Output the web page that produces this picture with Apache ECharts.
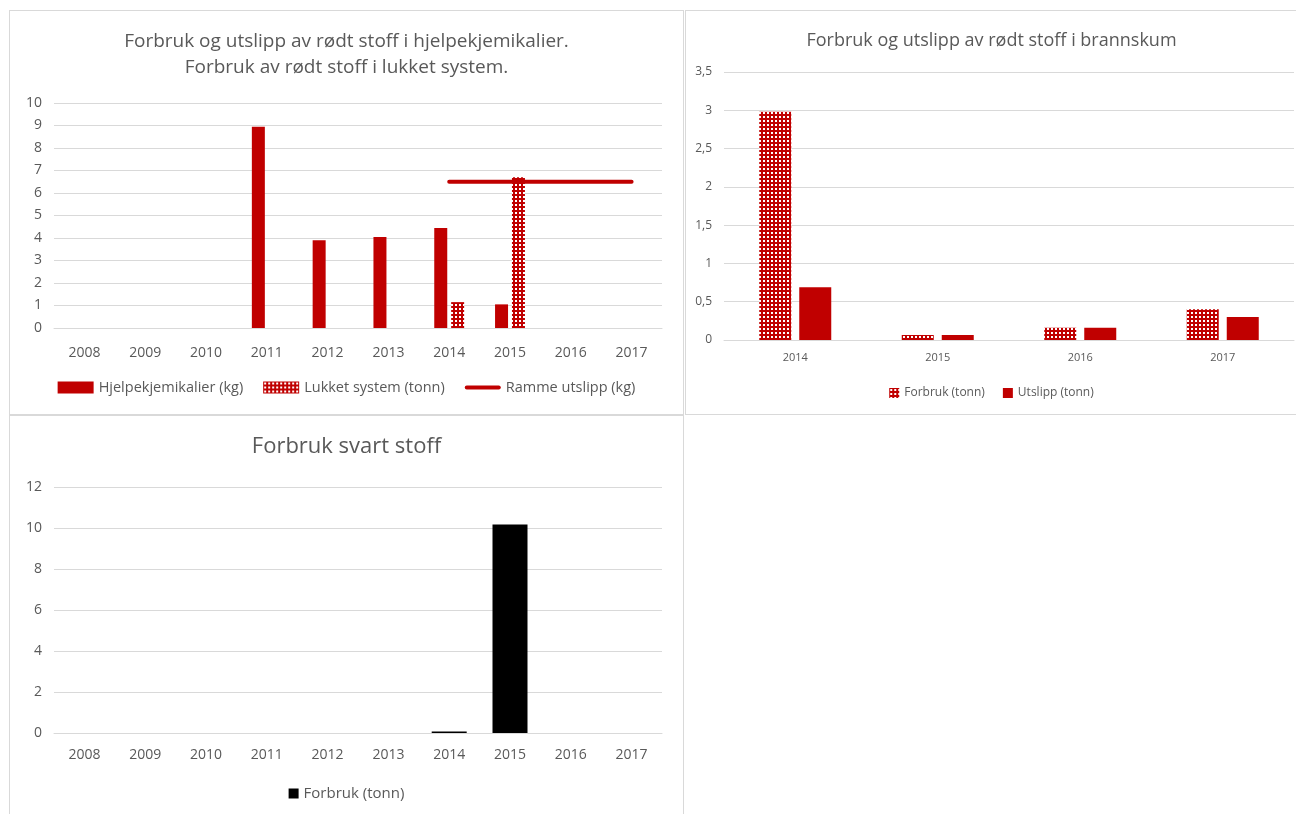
<!DOCTYPE html>
<html>
<head>
<meta charset="utf-8">
<script src="https://cdn.jsdelivr.net/npm/echarts@6/dist/echarts.min.js"></script>
<style>
  body { margin: 0; background: #fff; width: 1296px; height: 814px; overflow: hidden; position: relative; }
  .panel { position: absolute; border: 1px solid #d9d9d9; box-sizing: border-box; background: #fff; }
</style>
</head>
<body>
<div id="hjelp" class="panel" style="left:9px;top:10px;width:675px;height:405px;"></div>
<div id="brann" class="panel" style="left:685px;top:10px;width:613px;height:405px;"></div>
<div id="svart" class="panel" style="left:9px;top:415px;width:675px;height:402px;"></div>
<script>
// data
var years = ['2008', '2009', '2010', '2011', '2012', '2013', '2014', '2015', '2016', '2017']
var hjelpekjemikalier = [null, null, null, 8.95, 3.9, 4.05, 4.45, 1.05, null, null]
var lukketSystem = [null, null, null, null, null, null, 1.15, 6.7, null, null]
var rammeUtslipp = [null, null, null, null, null, null, 6.5, 6.5, 6.5, 6.5]

var brannYears = ['2014', '2015', '2016', '2017']
var brannForbruk = [2.98, 0.065, 0.16, 0.4]
var brannUtslipp = [0.69, 0.065, 0.16, 0.3]

var svartForbruk = [null, null, null, null, null, null, 0.07, 10.17, null, null]

var RED = '#c00000'
var TXT = '#595959'
var GRID = '#d9d9d9'
var FONT = "'Open Sans', sans-serif"

// rutemønster for skraverte søyler
function makePattern() {
	var c = document.createElement('canvas')
	c.width = 4
	c.height = 4
	var ctx = c.getContext('2d')
	ctx.fillStyle = RED
	ctx.fillRect(0, 0, 4, 4)
	ctx.fillStyle = '#ffffff'
	ctx.fillRect(1, 1, 2, 2)
	return { image: c, repeat: 'repeat' }
}
var pattern = makePattern()

function yAxis(max, interval, size, fmt) {
	return {
		type: 'value',
		min: 0,
		max: max,
		interval: interval,
		axisLine: { show: false },
		axisTick: { show: false },
		splitLine: { lineStyle: { color: GRID, width: 1 } },
		axisLabel: { color: TXT, fontSize: size, fontFamily: FONT, margin: 12, formatter: fmt },
	}
}
function xAxis(data, size, margin) {
	return {
		type: 'category',
		data: data,
		axisLine: { lineStyle: { color: GRID } },
		axisTick: { show: false },
		axisLabel: { color: TXT, fontSize: size, fontFamily: FONT, margin: margin },
	}
}

var chart1 = echarts.init(document.getElementById('hjelp'))
chart1.setOption({
	animation: false,
	title: [
		{
			text: 'Forbruk og utslipp av rødt stoff i hjelpekjemikalier.',
			left: 'center',
			top: 16,
			textStyle: { color: TXT, fontSize: 19, fontWeight: 'normal', fontFamily: FONT },
		},
		{
			text: 'Forbruk av rødt stoff i lukket system.',
			left: 'center',
			top: 42,
			textStyle: { color: TXT, fontSize: 19, fontWeight: 'normal', fontFamily: FONT },
		},
	],
	grid: { left: 44, right: 21, top: 92, bottom: 86 },
	xAxis: xAxis(years, 14, 18),
	yAxis: yAxis(10, 1, 14),
	legend: {
		bottom: 14,
		itemWidth: 36,
		itemHeight: 12,
		itemGap: 20,
		textStyle: { color: TXT, fontSize: 14.5, fontFamily: FONT },
		data: [
			{ name: 'Hjelpekjemikalier (kg)', icon: 'rect' },
			{ name: 'Lukket system (tonn)', icon: 'rect' },
			{ name: 'Ramme utslipp (kg)', icon: 'path://M2,0 L34,0 A2,2 0 0 1 34,4 L2,4 A2,2 0 0 1 2,0 Z' },
		],
	},
	series: [
		{
			name: 'Hjelpekjemikalier (kg)',
			type: 'bar',
			data: hjelpekjemikalier,
			barWidth: 13,
			barGap: '30%',
			itemStyle: { color: RED },
		},
		{
			name: 'Lukket system (tonn)',
			type: 'bar',
			data: lukketSystem,
			barWidth: 13,
			barGap: '30%',
			itemStyle: { color: pattern },
		},
		{
			name: 'Ramme utslipp (kg)',
			type: 'line',
			data: rammeUtslipp,
			showSymbol: false,
			symbol: 'none',
			lineStyle: { color: RED, width: 4, cap: 'round' },
			itemStyle: { color: RED },
		},
	],
})

var chart2 = echarts.init(document.getElementById('brann'))
chart2.setOption({
	animation: false,
	title: {
		text: 'Forbruk og utslipp av rødt stoff i brannskum',
		left: 'center',
		top: 16,
		textStyle: { color: TXT, fontSize: 18, fontWeight: 'normal', fontFamily: FONT },
	},
	grid: { left: 38, right: 3, top: 61, bottom: 74 },
	xAxis: xAxis(brannYears, 11, 12),
	yAxis: yAxis(3.5, 0.5, 12, function (v) {
		return String(v).replace('.', ',')
	}),
	legend: {
		bottom: 10,
		itemWidth: 10,
		itemHeight: 10,
		itemGap: 18,
		textStyle: { color: TXT, fontSize: 12, fontFamily: FONT },
		data: [
			{ name: 'Forbruk (tonn)', icon: 'rect' },
			{ name: 'Utslipp (tonn)', icon: 'rect' },
		],
	},
	series: [
		{
			name: 'Forbruk (tonn)',
			type: 'bar',
			data: brannForbruk,
			barWidth: 32,
			barGap: '25%',
			itemStyle: { color: pattern },
		},
		{
			name: 'Utslipp (tonn)',
			type: 'bar',
			data: brannUtslipp,
			barWidth: 32,
			barGap: '25%',
			itemStyle: { color: RED },
		},
	],
})

var chart3 = echarts.init(document.getElementById('svart'))
chart3.setOption({
	animation: false,
	title: {
		text: 'Forbruk svart stoff',
		left: 'center',
		top: 15,
		textStyle: { color: TXT, fontSize: 22, fontWeight: 'normal', fontFamily: FONT },
	},
	grid: { left: 44, right: 21, top: 71, bottom: 83 },
	xAxis: xAxis(years, 14, 15),
	yAxis: yAxis(12, 2, 14),
	legend: {
		bottom: 10,
		itemWidth: 10,
		itemHeight: 10,
		textStyle: { color: TXT, fontSize: 15, fontFamily: FONT },
		data: [{ name: 'Forbruk (tonn)', icon: 'rect' }],
	},
	series: [
		{
			name: 'Forbruk (tonn)',
			type: 'bar',
			data: svartForbruk,
			barWidth: 35,
			itemStyle: { color: '#000000' },
		},
	],
})
</script>
</body>
</html>
